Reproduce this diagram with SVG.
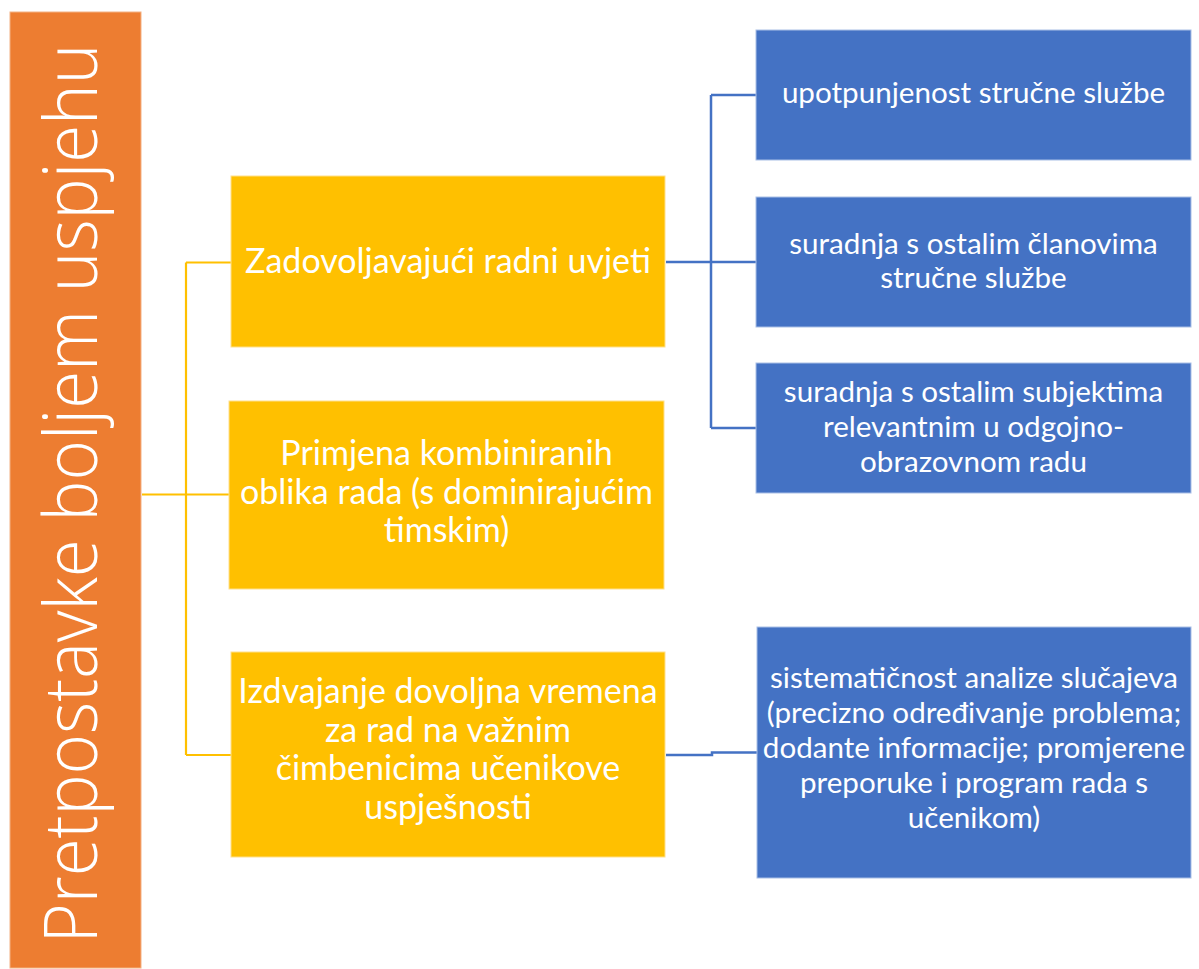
<svg xmlns="http://www.w3.org/2000/svg" width="1199" height="969" viewBox="0 0 1199 969">
<style>
.bg{fill:#ffffff}
.title{fill:#ED7D31;stroke:#F4B183;stroke-width:1}
.yel{fill:#FFC000;stroke:#FFE08A;stroke-width:1}
.blu{fill:#4472C4;stroke:#A9BFE6;stroke-width:1}
.t{fill:#ffffff;font-family:Lato,"Open Sans","Liberation Sans",sans-serif;text-anchor:middle}
.ty{font-size:34px}
.tb{font-size:29.6px}
.tt{font-family:"Open Sans",Lato,"Liberation Sans",sans-serif;font-weight:300;font-size:74px}
.cy{fill:none;stroke:#FFC000;stroke-width:2.2}
.cb{fill:none;stroke:#4472C4;stroke-width:2.5}
</style>
<rect class="bg" x="0" y="0" width="1199" height="969"/>
<g id="connectors">
<path class="cy" d="M142 494.5H229M186 262.5V755M186 262.5H231M186 755H231"/>
<path class="cb" d="M666 262H756M711 95V428M711 95H756M711 428H756"/>
<path class="cb" d="M666 755H712V752.5H757"/>
</g>
<g id="title">
<rect class="title" x="10" y="12" width="131" height="956"/>
<text class="t tt" transform="translate(97 493.5) rotate(-90)" x="0" y="0" textLength="900" lengthAdjust="spacingAndGlyphs">Pretpostavke boljem uspjehu</text>
</g>
<g id="n1">
<rect class="yel" x="231" y="176" width="434" height="171"/>
<text class="t ty" x="448" y="273">Zadovoljavajući radni uvjeti</text>
</g>
<g id="n2">
<rect class="yel" x="229" y="401" width="435" height="188"/>
<text class="t ty" x="446.5"><tspan x="446.5" y="465">Primjena kombiniranih</tspan><tspan x="446.5" y="503.5">oblika rada (s dominirajućim</tspan><tspan x="446.5" y="542">timskim)</tspan></text>
</g>
<g id="n3">
<rect class="yel" x="231" y="652" width="434" height="205"/>
<text class="t ty" x="448"><tspan x="448" y="703">Izdvajanje dovoljna vremena</tspan><tspan x="448" y="741.5">za rad na važnim</tspan><tspan x="448" y="780">čimbenicima učenikove</tspan><tspan x="448" y="818.5">uspješnosti</tspan></text>
</g>
<g id="b1">
<rect class="blu" x="756" y="30" width="435" height="130"/>
<text class="t tb" x="973.5" y="103">upotpunjenost stručne službe</text>
</g>
<g id="b2">
<rect class="blu" x="756" y="197" width="435" height="130"/>
<text class="t tb" x="973.5"><tspan x="973.5" y="253.5">suradnja s ostalim članovima</tspan><tspan x="973.5" y="288">stručne službe</tspan></text>
</g>
<g id="b3">
<rect class="blu" x="756" y="363" width="435" height="130"/>
<text class="t tb" x="973.5"><tspan x="973.5" y="402">suradnja s ostalim subjektima</tspan><tspan x="973.5" y="437">relevantnim u odgojno-</tspan><tspan x="973.5" y="472">obrazovnom radu</tspan></text>
</g>
<g id="b4">
<rect class="blu" x="757" y="627" width="434" height="251"/>
<text class="t tb" x="974"><tspan x="974" y="688">sistematičnost analize slučajeva</tspan><tspan x="974" y="723">(precizno određivanje problema;</tspan><tspan x="974" y="758">dodante informacije; promjerene</tspan><tspan x="974" y="793">preporuke i program rada s</tspan><tspan x="974" y="828">učenikom)</tspan></text>
</g>
</svg>
